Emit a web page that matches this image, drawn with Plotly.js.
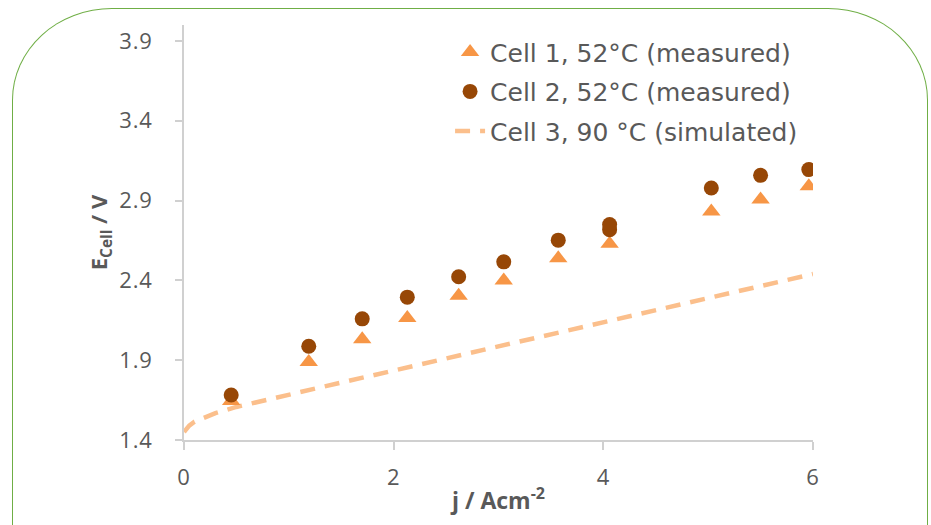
<!DOCTYPE html>
<html>
<head>
<meta charset="utf-8">
<script src="https://cdn.plot.ly/plotly-3.0.1.min.js"></script>
<style>
  html, body { margin: 0; padding: 0; background: #ffffff; }
  #wrap { position: relative; width: 931px; height: 525px; overflow: hidden; }
  #chart { position: absolute; left: 0; top: 0; width: 931px; height: 525px; }
  #frame { position: absolute; left: 12px; top: 8px; width: 914px; height: 560px;
           border: 1.6px solid #6fae45; border-bottom: none;
           border-radius: 100px 100px 0 0 / 92px 92px 0 0; pointer-events: none; }
  #chart .ytick text, #chart .xtick text { letter-spacing: 0.8px; }
</style>
</head>
<body>
<div id="wrap">
  <div id="chart"></div>
  <div id="frame"></div>
</div>
<script>
const jCell1 = [0.45, 1.19, 1.70, 2.13, 2.62, 3.05, 3.57, 4.06, 5.03, 5.50, 5.96];
const eCell1 = [1.645, 1.889, 2.031, 2.165, 2.304, 2.400, 2.538, 2.630, 2.832, 2.907, 2.989];

const jCell2 = [0.45, 1.19, 1.70, 2.13, 2.62, 3.05, 3.57, 4.06, 4.06, 5.03, 5.50, 5.96];
const eCell2 = [1.682, 1.987, 2.159, 2.295, 2.423, 2.516, 2.652, 2.718, 2.750, 2.979, 3.058, 3.094];

// Simulated curve
const jCell3 = [0, 0.05, 0.1, 0.2, 0.3, 0.5, 0.75, 1, 1.5, 2, 2.5, 3, 3.5, 4, 4.5, 5, 5.5, 6];
const eCell3 = [1.45, 1.49, 1.515, 1.545, 1.568, 1.607, 1.647, 1.685, 1.760, 1.835, 1.910, 1.985, 2.062, 2.140, 2.215, 2.290, 2.365, 2.440];

const names = ["Cell 1, 52°C (measured)", "Cell 2, 52°C (measured)", "Cell 3, 90 °C (simulated)"];
const yTicks = [1.4, 1.9, 2.4, 2.9, 3.4, 3.9];
const xTicks = [0, 2, 4, 6];

const FONT = "Open Sans, sans-serif";
const LEGFONT = "DejaVu Sans, sans-serif";
const GREY = "#595959";

const traces = [
  { x: jCell3, y: eCell3, name: names[2], mode: "lines", legendgroup: "c", legendrank: 3,
    line: { color: "#fbbf8c", width: 4.5, dash: "15px,10px" } },
  { x: jCell1, y: eCell1, name: names[0], mode: "markers", legendgroup: "a", legendrank: 1,
    marker: { symbol: "triangle-up", size: 16, color: "#f79646" } },
  { x: jCell2, y: eCell2, name: names[1], mode: "markers", legendgroup: "b", legendrank: 2,
    marker: { symbol: "circle", size: 15, color: "#974706" } }
];

const layout = {
  width: 931, height: 525,
  margin: { l: 183.5, r: 118, t: 24.5, b: 85 },
  paper_bgcolor: "rgba(0,0,0,0)", plot_bgcolor: "rgba(0,0,0,0)",
  font: { family: FONT, color: GREY },
  showlegend: true,
  legend: {
    x: 0.423, xanchor: "left", y: 0.99, yanchor: "top",
    font: { family: LEGFONT, size: 25, color: GREY },
    traceorder: "grouped", tracegroupgap: 4,
    bgcolor: "rgba(0,0,0,0)"
  },
  xaxis: {
    range: [0, 6], tickvals: xTicks, ticktext: xTicks.map(String),
    showgrid: false, zeroline: false, showline: true, linecolor: "#d0d0d0", linewidth: 2,
    ticks: "outside", ticklen: 8, tickwidth: 2, tickcolor: "#d0d0d0",
    tickfont: { family: FONT, size: 22, color: GREY }, ticklabelstandoff: 9,
    title: { text: "<b>j / Acm<sup>-2</sup></b>", font: { family: FONT, size: 23, color: GREY }, standoff: 2 }
  },
  yaxis: {
    range: [1.4, 4.0], tickvals: yTicks, ticktext: yTicks.map(v => v.toFixed(1)),
    showgrid: false, zeroline: false, showline: true, linecolor: "#d0d0d0", linewidth: 2,
    ticks: "outside", ticklen: 7, tickwidth: 2, tickcolor: "#d0d0d0",
    tickfont: { family: FONT, size: 22, color: GREY }, ticklabelstandoff: 18,
    title: { text: "<b>E<sub>Cell</sub> / V</b>", font: { family: FONT, size: 22, color: GREY }, standoff: 8 }
  }
};

Plotly.newPlot("chart", traces, layout, { staticPlot: true, displayModeBar: false });
</script>
</body>
</html>
